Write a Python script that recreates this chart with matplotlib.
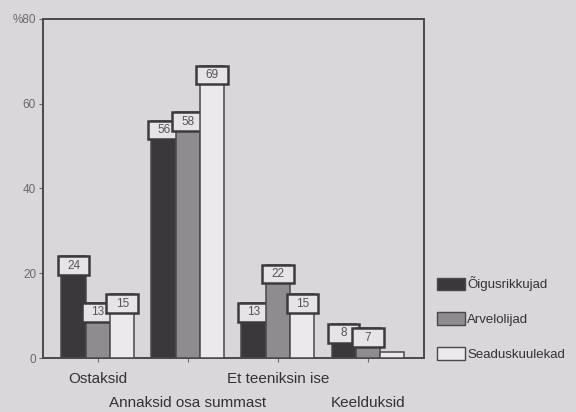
import numpy as np
import matplotlib
matplotlib.use("Agg")
import matplotlib.pyplot as plt
from matplotlib.patches import Rectangle, Patch

categories = ["Ostaksid", "Annaksid osa summast", "Et teeniksin ise", "Keelduksid"]
series = ["Õigusrikkujad", "Arvelolijad", "Seaduskuulekad"]
oigusrikkujad = [24, 56, 13, 8]
arvelolijad = [13, 58, 22, 7]
seaduskuulekad = [15, 69, 15, 1.5]
shown_labels = [[24, 56, 13, 8], [13, 58, 22, 7], [15, 69, 15, None]]
yticks = [0, 20, 40, 60, 80]
ytick_labels = ["0", "20", "40", "60", "%80"]

BG = "#d9d7d9"
COLORS = ["#3a383a", "#8e8c8e", "#ebe9eb"]
EDGE = "#4a484a"
plt.rcParams.update({"font.family": ["Liberation Sans", "DejaVu Sans"]})

fig = plt.figure(figsize=(5.76, 4.12), dpi=100, facecolor=BG)
ax = fig.add_axes([0.0747, 0.131, 0.661, 0.823])
ax.set_facecolor(BG)

values = [oigusrikkujad, arvelolijad, seaduskuulekad]
x = np.arange(len(categories))
w = 0.27
for i, vals in enumerate(values):
    ax.bar(x + (i - 1) * w, vals, w, color=COLORS[i], edgecolor=EDGE, linewidth=1.1, zorder=2 + i * 2)

# value boxes sitting on the bar tops
bw, bh = 0.35, 4.4
for i, labs in enumerate(shown_labels):
    for j, v in enumerate(labs):
        if v is None:
            continue
        cx = x[j] + (i - 1) * w
        ax.add_patch(Rectangle((cx - bw / 2, v - bh), bw, bh, facecolor="#e6e4e6",
                               edgecolor="#3c3a3c", linewidth=1.8, zorder=3 + i * 2))
        ax.text(cx, v - bh / 2, str(v), ha="center", va="center", fontsize=8.5,
                color="#555355", zorder=3 + i * 2)

ax.set_xlim(-0.61, 3.62)
ax.set_ylim(0, 80)
ax.set_yticks(yticks)
ax.set_yticklabels(ytick_labels, fontsize=8.5, color="#6a686a")
ax.set_xticks(x)
ax.set_xticklabels(categories, fontsize=11, color="#333133")
ax.tick_params(axis="y", length=3, width=0.8, color="#6a686a", pad=2)
ax.tick_params(axis="x", length=3, width=0.8, color="#6a686a", pad=7)
for k, t in enumerate(ax.xaxis.get_major_ticks()):
    if k % 2 == 1:
        t.set_pad(24)
for s in ax.spines.values():
    s.set_color("#4a484a")
    s.set_linewidth(1.4)

handles = [Patch(facecolor=COLORS[i], edgecolor=EDGE, linewidth=1, label=series[i]) for i in range(3)]
fig.legend(handles=handles, loc="upper left", bbox_to_anchor=(0.748, 0.345),
           frameon=False, fontsize=9.5, handlelength=2.1, handleheight=1.1,
           handletextpad=0.15, labelspacing=1.6, borderpad=0, labelcolor="#333133")

plt.savefig("out.png", dpi=100, facecolor=BG)
